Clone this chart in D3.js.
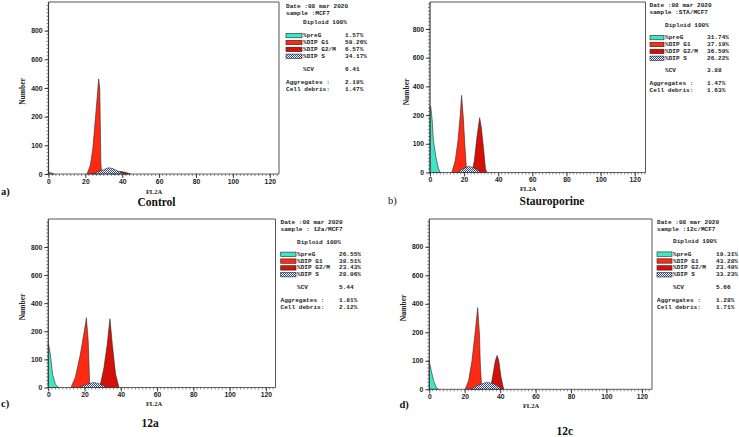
<!DOCTYPE html>
<html><head><meta charset="utf-8">
<script src="https://cdn.jsdelivr.net/npm/d3@7"></script>
<style>body{margin:0;background:#fff}svg{display:block}</style>
</head><body>
<svg id="chart" width="739" height="437"></svg>
<script>
// ---------------- data ----------------
const panelKeys = ["a", "b", "c", "d"];
const panelLetters = ["a)", "b)", "c)", "d)"];
const captions = ["Control", "Stauroporine", "12a", "12c"];
const dateLabel = "Date :08 mar 2020";
const sampleLabels = ["sample :MCF7", "sample :STA/MCF7", "sample : 12a/MCF7", "sample :12c/MCF7"];
const xTicks = [0, 20, 40, 60, 80, 100, 120];
const yTickLabels = [0, 100, 200, 400, 600, 800];
const yDomainStops = [0, 100, 200, 400, 600, 800, 1000];
const legendNames = ["%preG", "%DIP G1", "%DIP G2/M", "%DIP S"];
const preGPct = ["1.57%", "31.74%", "26.55%", "19.31%"];
const g1Pct = ["59.26%", "37.19%", "38.51%", "43.28%"];
const g2Pct = ["6.57%", "36.59%", "23.43%", "23.49%"];
const sPct = ["34.17%", "26.22%", "28.06%", "33.23%"];
const cvVals = ["6.41", "3.88", "5.44", "5.66"];
const aggVals = ["2.19%", "1.47%", "1.81%", "1.28%"];
const debrisVals = ["1.47%", "1.63%", "2.12%", "1.71%"];

// histogram components: [FL2A channel, count]
const preG_a = [[0, 6], [1, 5], [2, 2], [3, 0]];
const g1_a = [[20.9, 0], [22.7, 31], [24, 86], [25.8, 242], [27.2, 463], [27.8, 400], [28.4, 40], [28.8, 0]];
const g2_a = [[34, 0], [37, 7], [39.5, 9], [42, 5], [44.5, 0]];
const s_a = [[24, 0], [26.7, 8], [30.3, 16], [32.5, 22], [34.8, 19], [37.6, 10], [41.2, 1], [42.9, 0]];

const preG_b = [[0, 265], [0.5, 256], [1.3, 181], [2, 111], [3.5, 53], [5, 13], [6, 0]];
const g1_b = [[12.8, 0], [14.8, 42], [16.4, 111], [17.8, 210], [18.5, 338], [19.5, 193], [20.5, 89], [21.3, 18], [21.8, 0]];
const g2_b = [[24.6, 0], [26, 42], [27.5, 123], [29.1, 191], [30.1, 156], [31.5, 77], [32.5, 13], [33.4, 0]];
const s_b = [[16.4, 0], [19.3, 13], [23, 22], [26.6, 13], [29.9, 0]];

const preG_c = [[0, 158], [0.2, 153], [1.1, 119], [2.4, 47], [3.9, 12], [5.7, 0]];
const g1_c = [[12.5, 0], [14.9, 36], [17.7, 119], [19.9, 205], [21, 296], [22, 167], [22.5, 71], [22.9, 0]];
const g2_c = [[28.4, 0], [30.7, 71], [32.5, 154], [34, 289], [35.3, 154], [37.1, 48], [39, 0]];
const s_c = [[16.8, 0], [20.5, 10], [25.1, 18], [28.8, 12], [32.1, 0]];

const preG_d = [[0, 100], [0.1, 95], [1.1, 66], [2.4, 31], [3.9, 7], [5.2, 0]];
const g1_d = [[20.3, 0], [22.2, 31], [24.1, 101], [26, 213], [27.3, 373], [28.3, 195], [28.8, 89], [29.6, 0]];
const g2_d = [[34.5, 0], [36, 54], [37.3, 101], [38.3, 119], [39.2, 101], [40.5, 42], [42, 0]];
const s_d = [[23.1, 0], [26.9, 13], [32.6, 25], [37.3, 17], [41.1, 0]];

const preGSeries = [preG_a, preG_b, preG_c, preG_d];
const g1Series = [g1_a, g1_b, g1_c, g1_d];
const g2Series = [g2_a, g2_b, g2_c, g2_d];
const sSeries = [s_a, s_b, s_c, s_d];

// ---------------- layout / style ----------------
const layout = [
  {left: 48.5, right: 279, top: 2, base: 174, step: 28.67, xMax: 125,
   info: {x: 286, sw: 286, lab: 303, val: 345, date: 6, sample: 13.2, dip: 22.8, row0: 35.6, rowStep: 6.9, cv: 69.5, agg: 82, deb: 89.2},
   yLab: [22, 91.5], xLab: [154, 191.3], letter: [1, 191, true], cap: [156.5, 202]},
  {left: 430, right: 645.5, top: 2, base: 172.5, step: 28.7, xMax: 126.3,
   info: {x: 649.5, sw: 650, lab: 665, val: 707, date: 5.4, sample: 12.6, dip: 25, row0: 37.6, rowStep: 6.9, cv: 70.9, agg: 83.6, deb: 90.8},
   yLab: [406, 92], xLab: [528, 188], letter: [388, 200.7, false], cap: [552, 200.7]},
  {left: 48.3, right: 275.5, top: 219, base: 387.5, step: 28.1, xMax: 125.3,
   info: {x: 280.5, sw: 280.7, lab: 297, val: 339, date: 222.2, sample: 229.4, dip: 242.1, row0: 254.3, rowStep: 6.8, cv: 287, agg: 300.1, deb: 307.3},
   yLab: [22, 307], xLab: [154, 403], letter: [1, 403, true], cap: [150, 423.3]},
  {left: 429.3, right: 652, top: 219, base: 389.3, step: 28.5, xMax: 125.7,
   info: {x: 657, sw: 657, lab: 673, val: 716, date: 222, sample: 229.2, dip: 241.7, row0: 254.1, rowStep: 6.9, cv: 287.9, agg: 300.6, deb: 307.8},
   yLab: [403, 308], xLab: [531, 405], letter: [399.4, 404.3, true], cap: [564.8, 430.5]}
];

const COL_PREG = "#3fe6c6";
const COL_G1 = "#ff2a12";
const COL_G2 = "#d41008";
const AXIS = "#3a3a3a";
const MONO = "'Liberation Mono','DejaVu Sans Mono',monospace";
const SERIF = "'Liberation Serif','Times New Roman',serif";
const SANS = "'Liberation Sans',Arial,sans-serif";

const svg = d3.select("#chart");
const defs = svg.append("defs");
const pat = defs.append("pattern").attr("id", "hatch").attr("patternUnits", "userSpaceOnUse")
  .attr("width", 2).attr("height", 2);
pat.append("rect").attr("width", 2).attr("height", 2).attr("fill", "#ffffff");
pat.append("rect").attr("x", 0).attr("y", 0).attr("width", 1).attr("height", 1).attr("fill", "#27469c");
pat.append("rect").attr("x", 1).attr("y", 1).attr("width", 1).attr("height", 1).attr("fill", "#27469c");

panelKeys.forEach((key, i) => {
  const L = layout[i];
  const g = svg.append("g").attr("class", "panel-" + key);
  const xs = d3.scaleLinear().domain([0, L.xMax]).range([L.left, L.right]);
  const ys = d3.scaleLinear().domain(yDomainStops)
    .range(yDomainStops.map((d, k) => L.base - k * L.step));

  // frame (top and right borders)
  g.append("path")
    .attr("d", `M${L.left},${L.top}H${L.right}V${L.base}`)
    .attr("fill", "none").attr("stroke", "#555").attr("stroke-width", 1);

  const area = d3.area().x(d => xs(d[0])).y0(ys(0)).y1(d => ys(d[1]));
  const comps = [
    [g1Series[i], COL_G1],
    [g2Series[i], COL_G2],
    [sSeries[i], "url(#hatch)"],
    [preGSeries[i], COL_PREG]
  ];
  comps.forEach(([data, fill]) => {
    g.append("path").datum(data).attr("d", area)
      .attr("fill", fill).attr("stroke", "#2a2a2a").attr("stroke-width", 0.6)
      .attr("stroke-linejoin", "round");
  });

  // y axis
  const yAxis = d3.axisLeft(ys).tickValues(yTickLabels).tickSize(4).tickPadding(2).tickFormat(d3.format("d"));
  const ya = g.append("g").attr("transform", `translate(${L.left},0)`).call(yAxis);
  ya.select(".domain").remove();
  ya.selectAll("line").attr("stroke", AXIS);
  ya.selectAll("text").attr("font-family", SANS).attr("font-weight", "bold").attr("font-size", 6.8).attr("fill", "#222");
  g.append("line").attr("x1", L.left).attr("x2", L.left).attr("y1", L.top).attr("y2", L.base)
    .attr("stroke", AXIS).attr("stroke-width", 1.2);
  // minor ticks on y axis
  const minorY = d3.range(0, 6 * 8 + 1).map(k => L.base - k * L.step / 8).filter(y => y >= L.top);
  g.selectAll(".ymin").data(minorY).enter().append("line")
    .attr("x1", L.left - 2).attr("x2", L.left).attr("y1", d => d).attr("y2", d => d)
    .attr("stroke", AXIS).attr("stroke-width", 0.6);

  // x axis
  const xAxis = d3.axisBottom(xs).tickValues(xTicks).tickSize(4).tickPadding(1);
  const xa = g.append("g").attr("transform", `translate(0,${L.base})`).call(xAxis);
  xa.select(".domain").remove();
  xa.selectAll("line").attr("stroke", AXIS);
  xa.selectAll("text").attr("font-family", SANS).attr("font-weight", "bold").attr("font-size", 6.8).attr("fill", "#222");
  g.append("line").attr("x1", L.left).attr("x2", L.right).attr("y1", L.base).attr("y2", L.base)
    .attr("stroke", AXIS).attr("stroke-width", 0.8);
  const minorX = d3.range(0, L.xMax, 2);
  g.selectAll(".xmin").data(minorX).enter().append("line")
    .attr("x1", d => xs(d)).attr("x2", d => xs(d)).attr("y1", L.base).attr("y2", L.base + 2)
    .attr("stroke", AXIS).attr("stroke-width", 0.6);

  // axis titles
  g.append("text").attr("transform", `translate(${L.yLab[0]},${L.yLab[1]}) rotate(-90)`)
    .attr("text-anchor", "middle").attr("dominant-baseline", "central")
    .attr("font-family", SERIF).attr("font-weight", "bold").attr("font-size", 7.5).attr("fill", "#222")
    .text("Number");
  g.append("text").attr("x", L.xLab[0]).attr("y", L.xLab[1])
    .attr("text-anchor", "middle").attr("dominant-baseline", "central")
    .attr("font-family", SERIF).attr("font-weight", "bold").attr("font-size", 6.5).attr("fill", "#222")
    .text("FL2A");

  // panel letter & caption
  g.append("text").attr("x", L.letter[0]).attr("y", L.letter[1]).attr("dominant-baseline", "central")
    .attr("font-family", SERIF).attr("font-weight", L.letter[2] ? "bold" : "normal").attr("font-size", 10.5)
    .attr("fill", "#111").text(panelLetters[i]);
  g.append("text").attr("x", L.cap[0]).attr("y", L.cap[1]).attr("dominant-baseline", "central")
    .attr("text-anchor", "middle")
    .attr("font-family", SERIF).attr("font-weight", "bold").attr("font-size", 11.5)
    .attr("fill", "#111").text(captions[i]);

  // info block
  const I = L.info;
  const txt = (x, y, s) => g.append("text").attr("x", x).attr("y", y).attr("dominant-baseline", "central")
    .attr("font-family", MONO).attr("font-weight", "bold").attr("font-size", 6.1).attr("fill", "#222").text(s);
  txt(I.x, I.date, dateLabel);
  txt(I.x, I.sample, sampleLabels[i]);
  txt(I.lab, I.dip, "Diploid 100%");
  const rowVals = [preGPct[i], g1Pct[i], g2Pct[i], sPct[i]];
  const rowFills = [COL_PREG, COL_G1, COL_G2, "url(#hatch)"];
  legendNames.forEach((nm, r) => {
    const y = I.row0 + r * I.rowStep;
    g.append("rect").attr("x", I.sw).attr("y", y - 2.2).attr("width", I.lab - I.sw - 1).attr("height", 4.4)
      .attr("fill", rowFills[r]).attr("stroke", "#222").attr("stroke-width", 0.6);
    txt(I.lab, y, nm);
    txt(I.val, y, rowVals[r]);
  });
  txt(I.lab, I.cv, "%CV");
  txt(I.val, I.cv, cvVals[i]);
  txt(I.x, I.agg, "Aggregates :");
  txt(I.val, I.agg, aggVals[i]);
  txt(I.x, I.deb, "Cell debris:");
  txt(I.val, I.deb, debrisVals[i]);
});
</script>
</body></html>
